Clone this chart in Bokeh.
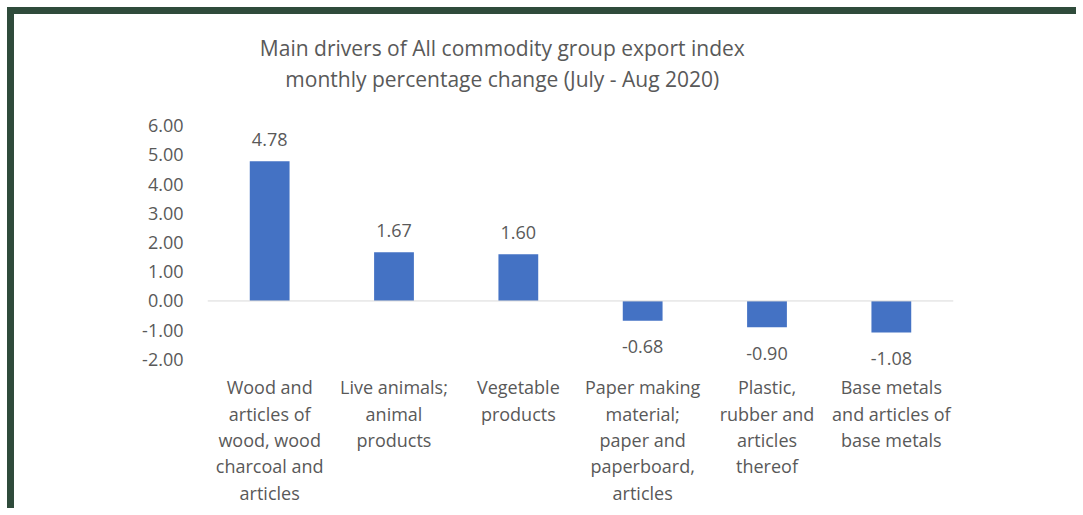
from bokeh.plotting import figure
from bokeh.models import ColumnDataSource, Span, FixedTicker, NumeralTickFormatter, Range1d
from bokeh.core.properties import value
from bokeh.embed import file_html
from bokeh.resources import INLINE

categories = [
    "Wood and\narticles of\nwood, wood\ncharcoal and\narticles",
    "Live animals;\nanimal\nproducts",
    "Vegetable\nproducts",
    "Paper making\nmaterial;\npaper and\npaperboard,\narticles",
    "Plastic,\nrubber and\narticles\nthereof",
    "Base metals\nand articles of\nbase metals",
]
values = [4.78, 1.67, 1.60, -0.68, -0.90, -1.08]
y_ticks = [-2, -1, 0, 1, 2, 3, 4, 5, 6]
title_lines = [
    "Main drivers of All commodity group export index",
    "monthly percentage change (July - Aug 2020)",
]

FONT = "Open Sans"
GRAY = "#595959"
BLUE = "#4472C4"
GREEN = "#2f4b3b"
FS = "18px"

src = ColumnDataSource(dict(
    cat=categories,
    val=values,
    lbl=["%.2f" % v for v in values],
    off=[-22 if v >= 0 else 26 for v in values],
))

# category labels, one row per text line, hung below the lowest tick
cx, ct, co = [], [], []
for c in categories:
    for i, line in enumerate(c.split("\n")):
        cx.append(c)
        ct.append(line)
        co.append(28 + i * 26.3)
cat_src = ColumnDataSource(dict(cat=cx, txt=ct, off=co, y=[y_ticks[0]] * len(cx)))

# title lines, floated above the top tick
title_src = ColumnDataSource(dict(
    cat=[categories[2]] * len(title_lines),
    y=[y_ticks[-1]] * len(title_lines),
    txt=title_lines,
    off=[-78, -47],
))

W, H = 1069, 501
p = figure(x_range=categories, y_range=Range1d(-7, 9.7), width=W, height=H,
           output_backend="svg", toolbar_location=None, title=None,
           min_border_left=193, min_border_right=130,
           min_border_top=3, min_border_bottom=10)
p.styles = {"border-top": "7px solid " + GREEN, "border-left": "7px solid " + GREEN,
            "margin-top": "7px", "margin-left": "7px"}
p.outline_line_color = None
p.background_fill_color = "white"
p.border_fill_color = "white"
p.xgrid.visible = False
p.ygrid.visible = False
p.xaxis.visible = False

p.vbar(x="cat", top="val", bottom=0, width=0.32, source=src,
       fill_color=BLUE, line_color=None)

p.add_layout(Span(location=0, dimension="width", line_color="#d9d9d9", line_width=1))

p.text(x="cat", y="val", text="lbl", y_offset="off", source=src,
       text_align="center", text_baseline="middle",
       text_font=value(FONT), text_font_size=FS, text_color=GRAY)

p.text(x="cat", y="y", text="txt", y_offset="off", source=cat_src,
       text_align="center", text_baseline="middle",
       text_font=value(FONT), text_font_size=FS, text_color=GRAY)

p.text(x="cat", y="y", text="txt", y_offset="off", x_offset=-16, source=title_src,
       text_align="center", text_baseline="middle",
       text_font=value(FONT), text_font_size="21px", text_color=GRAY)

# y axis
p.yaxis.ticker = FixedTicker(ticks=y_ticks)
p.yaxis.formatter = NumeralTickFormatter(format="0.00")
p.yaxis.axis_line_color = None
p.yaxis.major_tick_line_color = None
p.yaxis.minor_tick_line_color = None
p.yaxis.major_label_text_font = FONT
p.yaxis.major_label_text_font_size = FS
p.yaxis.major_label_text_color = GRAY
p.yaxis.major_label_standoff = 18

open("out.html", "w").write(file_html(p, INLINE))
